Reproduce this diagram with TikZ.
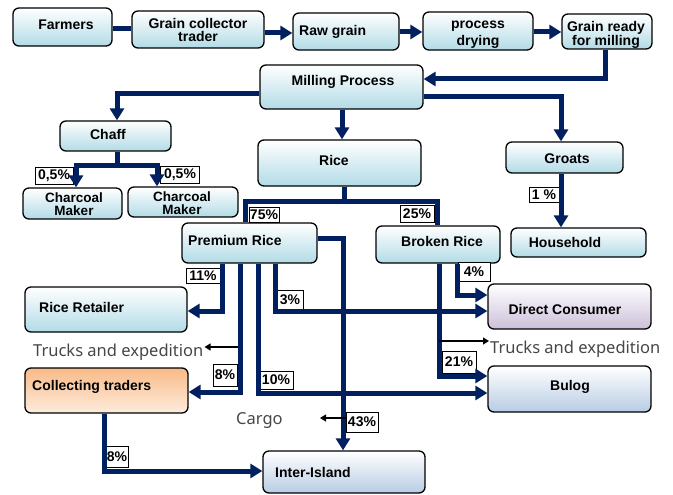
\documentclass[tikz,border=0pt]{standalone}
\usepackage{fontspec}
\setmainfont{Liberation Sans}
\newfontfamily\lightfont{Noto Sans}
\usetikzlibrary{arrows.meta,calc}
\definecolor{navy}{RGB}{0,32,96}
\definecolor{bxblue}{RGB}{178,219,230}
\definecolor{bxsteel}{RGB}{184,204,228}
\definecolor{bxlilac}{RGB}{204,192,218}
\definecolor{bxorange}{RGB}{249,186,135}
\definecolor{bxpeach}{RGB}{253,236,222}
\definecolor{gtext}{RGB}{70,70,70}
\newcommand\mkbox[6]{%
  \pgfmathsetmacro\bxw{#5-#3}\pgfmathsetmacro\bxh{#6-#4}%
  \node[#2, minimum width=\bxw pt, minimum height=\bxh pt] (#1) at ({(#3+#5)/2},{(#4+#6)/2}) {};}
\begin{document}
\begin{tikzpicture}[x=1pt,y=-1pt,
  box/.style={draw=black, line width=1.3pt, rounded corners=6pt, top color=white, bottom color=bxblue, inner sep=0pt},
  steelbox/.style={box, bottom color=bxsteel},
  lilacbox/.style={box, bottom color=bxlilac},
  orangebox/.style={box, top color=bxorange, bottom color=bxpeach},
  txt/.style={font=\bfseries\fontsize{14}{13}\selectfont, inner sep=2pt, align=center},
  pct/.style={draw=black, line width=0.8pt, fill=white, font=\bfseries\fontsize{14}{14}\selectfont, inner sep=0pt},
  gray/.style={font=\lightfont\fontsize{16.5}{17}\selectfont, text=gtext, inner sep=1pt},
  plain/.style={draw=navy, line width=5pt},
  flow/.style={plain, -{Triangle[length=12pt,width=14pt]}},
  thinarr/.style={draw=black, line width=1.2pt, -{Triangle[length=6pt,width=7pt]}}
]
\useasboundingbox (0,0) rectangle (673,495);

% boxes
\mkbox{farm}{box}{13}{8}{112}{46}
\mkbox{gct}{box}{132}{11}{264}{48}
\mkbox{raw}{box}{293}{13}{399}{50}
\mkbox{dry}{box}{423}{12}{533}{50}
\mkbox{ready}{box}{562}{14}{652}{49}
\mkbox{mill}{box}{260}{65}{423}{109}
\mkbox{rice}{box}{258}{140}{421}{186}
\mkbox{groats}{box}{506}{142}{623}{173}
\mkbox{chaff}{box}{60}{121}{171}{151}
\mkbox{cma}{box}{23}{188}{122}{219}
\mkbox{cmb}{box}{128}{187}{238}{217}
\mkbox{prem}{box}{182}{223}{317}{263}
\mkbox{broken}{box}{376}{226}{500}{263}
\mkbox{house}{box}{511}{228}{646}{257}
\mkbox{retail}{box}{25}{287}{187}{332}
\mkbox{direct}{lilacbox}{488}{284}{651}{329}
\mkbox{collect}{orangebox}{25}{368}{188}{413}
\mkbox{bulog}{steelbox}{488}{366}{651}{412}
\mkbox{inter}{steelbox}{263}{451}{425}{493}

% box texts
\node[txt] (tfarm) at (66,25) {Farmers};
\node[txt] (tgct) at (198,30) {Grain collector\\trader};
\node[txt, anchor=west] (traw) at (297,32) {Raw grain};
\begin{scope}
  \clip (dry.north west) rectangle ([yshift=2pt]dry.south east);
  \node[txt] (tdry) at (478,35) {process\\[3pt]drying};
\end{scope}
\begin{scope}
  \clip (ready.north west) rectangle ([yshift=2pt]ready.south east);
  \node[txt, font=\bfseries\fontsize{14}{12.5}\selectfont] (tready) at (606,35) {Grain ready\\for milling};
\end{scope}
\node[txt] (tmill) at (343,82) {Milling Process};
\node[txt] (trice) at (334,160) {Rice};
\node[txt] (tgroats) at (567,159) {Groats};
\node[txt] (tchaff) at (108,134) {Chaff};
\node[txt, font=\bfseries\fontsize{13.5}{12.5}\selectfont] (tcma) at (74,204) {Charcoal\\Maker};
\node[txt, font=\bfseries\fontsize{13.5}{12.5}\selectfont] (tcmb) at (182,203) {Charcoal\\Maker};
\node[txt, anchor=west] (tprem) at (186,240) {Premium Rice};
\node[txt] (tbroken) at (442,241) {Broken Rice};
\node[txt] (thouse) at (565,242) {Household};
\node[txt, anchor=west] (tretail) at (37,307) {Rice Retailer};
\node[txt] (tdirect) at (565,309) {Direct Consumer};
\node[txt, anchor=west] (tcollect) at (30,387) {Collecting traders};
\node[txt] (tbulog) at (570,387) {Bulog};
\node[txt, anchor=west] (tinter) at (273,472) {Inter-Island};

% percentage labels
\node[pct, minimum width=38pt, minimum height=17pt] (l05a) at (54,176) {0,5\%};
\node[pct, minimum width=39pt, minimum height=17pt] (l05b) at (180,175) {0,5\%};
\node[pct, minimum width=30pt, minimum height=15pt] (l75) at (264,215) {75\%};
\node[pct, minimum width=34pt, minimum height=17pt] (l25) at (417,214) {25\%};
\node[pct, minimum width=30pt, minimum height=15pt] (l1) at (544,195) {1 \%};
\node[pct, minimum width=34pt, minimum height=15pt] (l11) at (203,276) {11\%};
\node[pct, minimum width=26pt, minimum height=19pt] (l3) at (290,300) {3\%};
\node[pct, minimum width=24pt, minimum height=22pt] (l8a) at (225,375) {8\%};
\node[pct, minimum width=34pt, minimum height=18pt] (l10) at (276,380) {10\%};
\node[pct, minimum width=23pt, minimum height=21pt] (l8b) at (117,457) {8\%};
\node[pct, minimum width=32pt, minimum height=20pt] (l43) at (362,422) {43\%};
\node[pct, minimum width=32pt, minimum height=19pt] (l4) at (474,272) {4\%};
\node[pct, minimum width=34pt, minimum height=22pt] (l21) at (459,362) {21\%};

% gray texts
\node[gray, anchor=west] (tk1) at (32,352) {Trucks and expedition};
\node[gray, anchor=west] (tk2) at (489,349) {Trucks and expedition};
\node[gray, anchor=west] (cargo) at (235,421) {Cargo};

% top chain
\draw[plain] (farm.east |- 0,29) -- (gct.west |- 0,29);
\draw[flow] (gct.east |- 0,33) -- (raw.west |- 0,33);
\draw[flow] (raw.east |- 0,32) -- (dry.west |- 0,32);
\draw[flow] (dry.east |- 0,32) -- (ready.west |- 0,32);
\draw[flow] (ready.south -| 605,0) |- (mill.east |- 0,79);
\draw[flow] (mill.east |- 0,97) -| (groats.north -| 561,0);
\draw[flow] (mill.south -| 342,0) -- (rice.north -| 342,0);
\draw[flow] (mill.west |- 0,94) -| (chaff.north -| 117,0);

% chaff split
\coordinate (chj) at (117,165);
\draw[plain] (chaff.south -| chj) -- (chj);
\draw[flow] (chj) -| (cma.north -| 76,0);
\draw[flow] (chj) -| (cmb.north -| 157,0);

% rice split
\coordinate (rj) at (344,201);
\draw[plain] (rice.south -| rj) -- (rj);
\draw[plain] (rj) -| (prem.north -| 245,0);
\draw[plain] (rj) -| (broken.north -| 437,0);

% groats
\draw[flow] (groats.south -| 561,0) -- (house.north -| 561,0);

% premium rice flows
\draw[flow] (prem.east |- 0,238) -| (inter.north -| 343,0);
\draw[flow] (prem.south -| 222,0) |- (retail.east |- 0,311);
\draw[flow] (prem.south -| 240,0) |- (collect.east |- 0,392);
\draw[flow] (prem.south -| 258,0) |- (bulog.west |- 0,393);
\draw[flow] (prem.south -| 275,0) |- (direct.west |- 0,311);

% broken rice flows
\draw[flow] (broken.south -| 457,0) |- (direct.west |- 0,295);
\draw[flow] (broken.south -| 439,0) |- (bulog.west |- 0,376);

% collecting traders
\draw[flow] (collect.south -| 104,0) |- (inter.west |- 0,471);

% thin arrows
\coordinate (c1) at (238,347);
\draw[thinarr] (c1) -- (tk1.east |- c1);
\coordinate (c2) at (439,341);
\draw[thinarr] (c2) -- (tk2.west |- c2);
\coordinate (c3) at (320,418);
\draw[thinarr] (l43.west |- c3) -- (c3);
\end{tikzpicture}
\end{document}
